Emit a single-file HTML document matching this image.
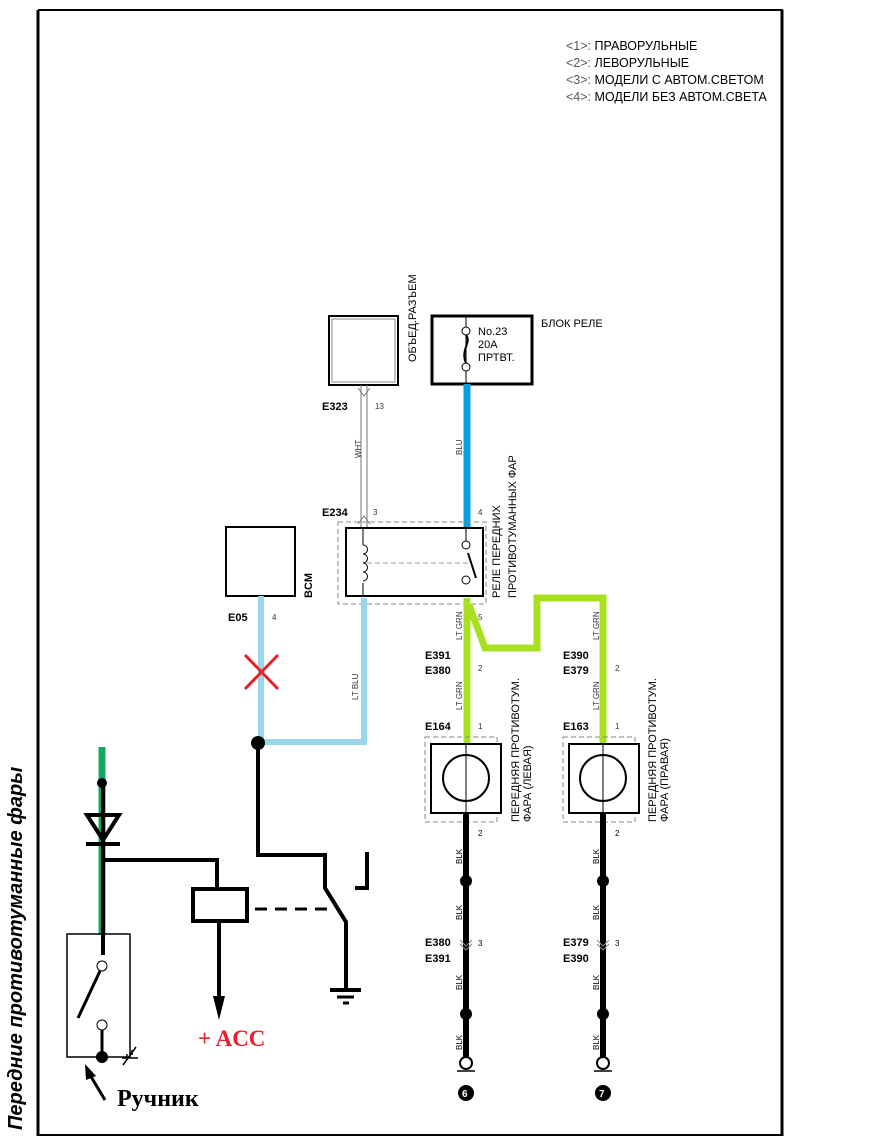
<!DOCTYPE html>
<html><head><meta charset="utf-8"><style>
body{margin:0;background:#fff}
svg{display:block}
text{font-family:"Liberation Sans",sans-serif;fill:#000}
.s{font-size:11px}
.b{font-size:11px;font-weight:bold}
.t{font-size:8px;fill:#333}
</style></head><body>
<svg width="883" height="1143" viewBox="0 0 883 1143">
<!-- frame -->
<line x1="38" y1="10" x2="783" y2="10" stroke="#000" stroke-width="2"/>
<line x1="38" y1="10" x2="38" y2="1136" stroke="#000" stroke-width="3"/>
<line x1="782" y1="10" x2="782" y2="1136" stroke="#000" stroke-width="3"/>
<line x1="38" y1="1135" x2="783" y2="1135" stroke="#000" stroke-width="2"/>
<text transform="translate(22,1130) rotate(-90)" style="font-size:20px;font-weight:bold;font-style:italic">Передние противотуманные фары</text>
<!-- legend -->
<g style="font-size:12.5px">
<text x="566" y="50"><tspan fill="#555">&lt;1&gt;:</tspan> ПРАВОРУЛЬНЫЕ</text>
<text x="566" y="67"><tspan fill="#555">&lt;2&gt;:</tspan> ЛЕВОРУЛЬНЫЕ</text>
<text x="566" y="84"><tspan fill="#555">&lt;3&gt;:</tspan> МОДЕЛИ С АВТОМ.СВЕТОМ</text>
<text x="566" y="101"><tspan fill="#555">&lt;4&gt;:</tspan> МОДЕЛИ БЕЗ АВТОМ.СВЕТА</text>
</g>
<!-- ОБЪЕД box -->
<rect x="329" y="316" width="69" height="69" fill="none" stroke="#000" stroke-width="2"/>
<rect x="332" y="319" width="63" height="63" fill="none" stroke="#888" stroke-width="1"/>
<text class="s" transform="translate(416,362) rotate(-90)">ОБЪЕД.РАЗЪЕМ</text>
<!-- relay block -->
<rect x="432" y="316" width="100" height="68" fill="none" stroke="#000" stroke-width="3"/>
<line x1="466" y1="316" x2="466" y2="384" stroke="#000"/>
<circle cx="466" cy="331" r="4" fill="#fff" stroke="#000"/>
<circle cx="466" cy="367" r="4" fill="#fff" stroke="#000"/>
<path d="M466,335 C472,342 460,350 466,363" fill="none" stroke="#000" stroke-width="2"/>
<text class="s" x="478" y="335">No.23</text>
<text class="s" x="478" y="348">20A</text>
<text class="s" x="478" y="361">ПРТВТ.</text>
<text class="s" x="541" y="327">БЛОК РЕЛЕ</text>
<!-- WHT -->
<line x1="361" y1="385" x2="361" y2="527" stroke="#777"/>
<line x1="367" y1="385" x2="367" y2="527" stroke="#777"/>
<path d="M358,388 L364,396 L370,388" fill="none" stroke="#777"/>
<path d="M358,524 L364,516 L370,524" fill="none" stroke="#777"/>
<text class="b" x="322" y="410">E323</text><text class="t" x="375" y="409">13</text>
<text class="t" transform="translate(361,458) rotate(-90)">WHT</text>
<text class="b" x="322" y="516">E234</text><text class="t" x="373" y="515">3</text><text class="t" x="478" y="515">4</text>
<!-- blue -->
<line x1="467" y1="384" x2="467" y2="527" stroke="#0aa0e0" stroke-width="7"/>
<text class="t" transform="translate(462,455) rotate(-90)">BLU</text>
<!-- relay -->
<rect x="338" y="522" width="148" height="82" fill="none" stroke="#888" stroke-dasharray="5,3"/>
<rect x="346" y="528" width="137" height="68" fill="none" stroke="#000" stroke-width="2"/>
<line x1="363" y1="528" x2="363" y2="545" stroke="#000"/>
<line x1="363" y1="583" x2="363" y2="596" stroke="#000"/>
<path d="M363,545 a4,4 0 0 1 0,9 a4,4 0 0 1 0,9 a4,4 0 0 1 0,9 a4,4 0 0 1 0,9" fill="none" stroke="#000"/>
<line x1="367" y1="563" x2="468" y2="563" stroke="#999" stroke-dasharray="5,3"/>
<line x1="466" y1="528" x2="466" y2="541" stroke="#000"/>
<circle cx="466" cy="545" r="4" fill="#fff" stroke="#000"/>
<circle cx="466" cy="580" r="4" fill="#fff" stroke="#000"/>
<line x1="468" y1="553" x2="476" y2="578" stroke="#000" stroke-width="2"/>
<text class="s" transform="translate(500,598) rotate(-90)">РЕЛЕ ПЕРЕДНИХ</text>
<text class="s" transform="translate(516,598) rotate(-90)">ПРОТИВОТУМАННЫХ ФАР</text>
<!-- BCM -->
<rect x="226" y="527" width="69" height="69" fill="none" stroke="#000" stroke-width="2"/>
<text class="b" transform="translate(312,598) rotate(-90)">BCM</text>
<text class="b" x="228" y="621">E05</text><text class="t" x="272" y="620">4</text>
<path d="M261,596 V742 H364 V598" fill="none" stroke="#99d6e8" stroke-width="6"/>
<text class="t" transform="translate(358,700) rotate(-90)">LT BLU</text>
<path d="M245,655 L278,689 M278,655 L245,689" stroke="#e8202a" stroke-width="3"/>
<!-- lower left circuit -->
<circle cx="258" cy="743" r="7" fill="#000"/>
<path d="M258,743 V855 H325 V888 L346,922 V990" fill="none" stroke="#000" stroke-width="4"/>
<path d="M367,852 V888 H355" fill="none" stroke="#000" stroke-width="4"/>
<line x1="255" y1="909" x2="330" y2="909" stroke="#000" stroke-width="3" stroke-dasharray="12,8"/>
<line x1="330" y1="990" x2="361" y2="990" stroke="#000" stroke-width="4"/>
<line x1="337" y1="997" x2="354" y2="997" stroke="#000" stroke-width="3"/>
<line x1="343" y1="1003" x2="349" y2="1003" stroke="#000" stroke-width="3"/>
<line x1="102" y1="747" x2="102" y2="935" stroke="#14a864" stroke-width="7"/>
<circle cx="102" cy="783" r="5" fill="#000"/>
<path d="M103,783 V955" stroke="#000" stroke-width="4"/>
<path d="M87,815 L119,815 L103,840 Z" fill="none" stroke="#000" stroke-width="4"/>
<line x1="86" y1="844" x2="120" y2="844" stroke="#000" stroke-width="4"/>
<path d="M103,860 H217 V889" fill="none" stroke="#000" stroke-width="4"/>
<rect x="193" y="889" width="54" height="32" fill="none" stroke="#000" stroke-width="4"/>
<line x1="219" y1="921" x2="219" y2="1000" stroke="#000" stroke-width="4"/>
<path d="M213,996 L225,996 L219,1020 Z" fill="#000"/>
<text x="198" y="1046" style="font-family:'Liberation Serif',serif;font-size:23px;font-weight:bold;fill:#e8202a">+ ACC</text>
<rect x="67" y="934" width="63" height="123" fill="none" stroke="#000" stroke-width="1.5"/>
<circle cx="102" cy="966" r="5" fill="#fff" stroke="#000"/>
<line x1="100" y1="971" x2="78" y2="1018" stroke="#000" stroke-width="3"/>
<circle cx="102" cy="1025" r="5" fill="#fff" stroke="#000"/>
<line x1="102" y1="1030" x2="102" y2="1056" stroke="#000" stroke-width="3"/>
<circle cx="102" cy="1057" r="6" fill="#000"/>
<path d="M123,1065 L136,1047 M127,1060 L127,1054 M132,1055 L132,1050 M122,1058 L138,1058" stroke="#000" stroke-width="1.5"/>
<line x1="105" y1="1100" x2="90" y2="1075" stroke="#000" stroke-width="3"/>
<path d="M85,1064 L96,1076 L86,1080 Z" fill="#000"/>
<text x="117" y="1106" style="font-family:'Liberation Serif',serif;font-size:24px;font-weight:bold">Ручник</text>
<!-- green -->
<path d="M467,598 V745 M469,605 L485,648 H537 V598 H603 V745" fill="none" stroke="#a8e020" stroke-width="7"/>
<text class="t" transform="translate(462,640) rotate(-90)">LT GRN</text>
<text class="t" x="478" y="620">5</text>
<text class="t" transform="translate(599,640) rotate(-90)">LT GRN</text>
<text class="t" transform="translate(462,710) rotate(-90)">LT GRN</text>
<text class="t" transform="translate(599,710) rotate(-90)">LT GRN</text>
<text class="b" x="425" y="659">E391</text><text class="b" x="425" y="674">E380</text><text class="t" x="478" y="671">2</text>
<text class="b" x="563" y="659">E390</text><text class="b" x="563" y="674">E379</text><text class="t" x="615" y="671">2</text>
<text class="b" x="425" y="730">E164</text><text class="t" x="478" y="729">1</text>
<text class="b" x="563" y="730">E163</text><text class="t" x="615" y="729">1</text>
<!-- lamps -->
<g>
<rect x="425" y="737" width="72" height="85" fill="none" stroke="#888" stroke-dasharray="5,3"/>
<rect x="431" y="744" width="70" height="69" fill="#fff" stroke="#000" stroke-width="2"/>
<circle cx="466" cy="778" r="23" fill="none" stroke="#000" stroke-width="2"/>
<line x1="466" y1="744" x2="466" y2="813" stroke="#000"/>
<rect x="563" y="737" width="72" height="85" fill="none" stroke="#888" stroke-dasharray="5,3"/>
<rect x="569" y="744" width="70" height="69" fill="#fff" stroke="#000" stroke-width="2"/>
<circle cx="603" cy="778" r="23" fill="none" stroke="#000" stroke-width="2"/>
<line x1="603" y1="744" x2="603" y2="813" stroke="#000"/>
</g>
<text class="s" transform="translate(519,822) rotate(-90)">ПЕРЕДНЯЯ ПРОТИВОТУМ.</text>
<text class="s" transform="translate(531,822) rotate(-90)">ФАРА (ЛЕВАЯ)</text>
<text class="s" transform="translate(656,822) rotate(-90)">ПЕРЕДНЯЯ ПРОТИВОТУМ.</text>
<text class="s" transform="translate(668,822) rotate(-90)">ФАРА (ПРАВАЯ)</text>
<!-- black -->
<g stroke="#000" stroke-width="6">
<line x1="466" y1="813" x2="466" y2="1057"/><line x1="603" y1="813" x2="603" y2="1057"/>
</g>
<g fill="#000">
<circle cx="466" cy="881" r="6"/><circle cx="466" cy="1014" r="6"/>
<circle cx="603" cy="881" r="6"/><circle cx="603" cy="1014" r="6"/>
</g>
<g fill="#fff" stroke="#000" stroke-width="2">
<circle cx="466" cy="1063" r="6"/><circle cx="603" cy="1063" r="6"/>
</g>
<g stroke="#000" stroke-width="1.5">
<line x1="457" y1="1071" x2="475" y2="1071"/><line x1="594" y1="1071" x2="612" y2="1071"/>
</g>
<circle cx="466" cy="1093" r="8" fill="#000"/><circle cx="603" cy="1093" r="8" fill="#000"/>
<text x="462" y="1097" style="font-size:10px;font-weight:bold;fill:#fff">6</text>
<text x="599" y="1097" style="font-size:10px;font-weight:bold;fill:#fff">7</text>
<g class="t">
<text x="478" y="836">2</text><text x="615" y="836">2</text>
<text x="478" y="946">3</text><text x="615" y="946">3</text>
<text transform="translate(462,864) rotate(-90)">BLK</text>
<text transform="translate(462,920) rotate(-90)">BLK</text>
<text transform="translate(462,990) rotate(-90)">BLK</text>
<text transform="translate(462,1050) rotate(-90)">BLK</text>
<text transform="translate(599,864) rotate(-90)">BLK</text>
<text transform="translate(599,920) rotate(-90)">BLK</text>
<text transform="translate(599,990) rotate(-90)">BLK</text>
<text transform="translate(599,1050) rotate(-90)">BLK</text>
</g>
<text class="b" x="425" y="946">E380</text><text class="b" x="425" y="962">E391</text>
<text class="b" x="563" y="946">E379</text><text class="b" x="563" y="962">E390</text>
<g fill="none" stroke="#888">
<path d="M460,940 L466,946 L472,940 M460,944 L466,950 L472,944"/>
<path d="M597,940 L603,946 L609,940 M597,944 L603,950 L609,944"/>
</g>
</svg>
</body></html>
